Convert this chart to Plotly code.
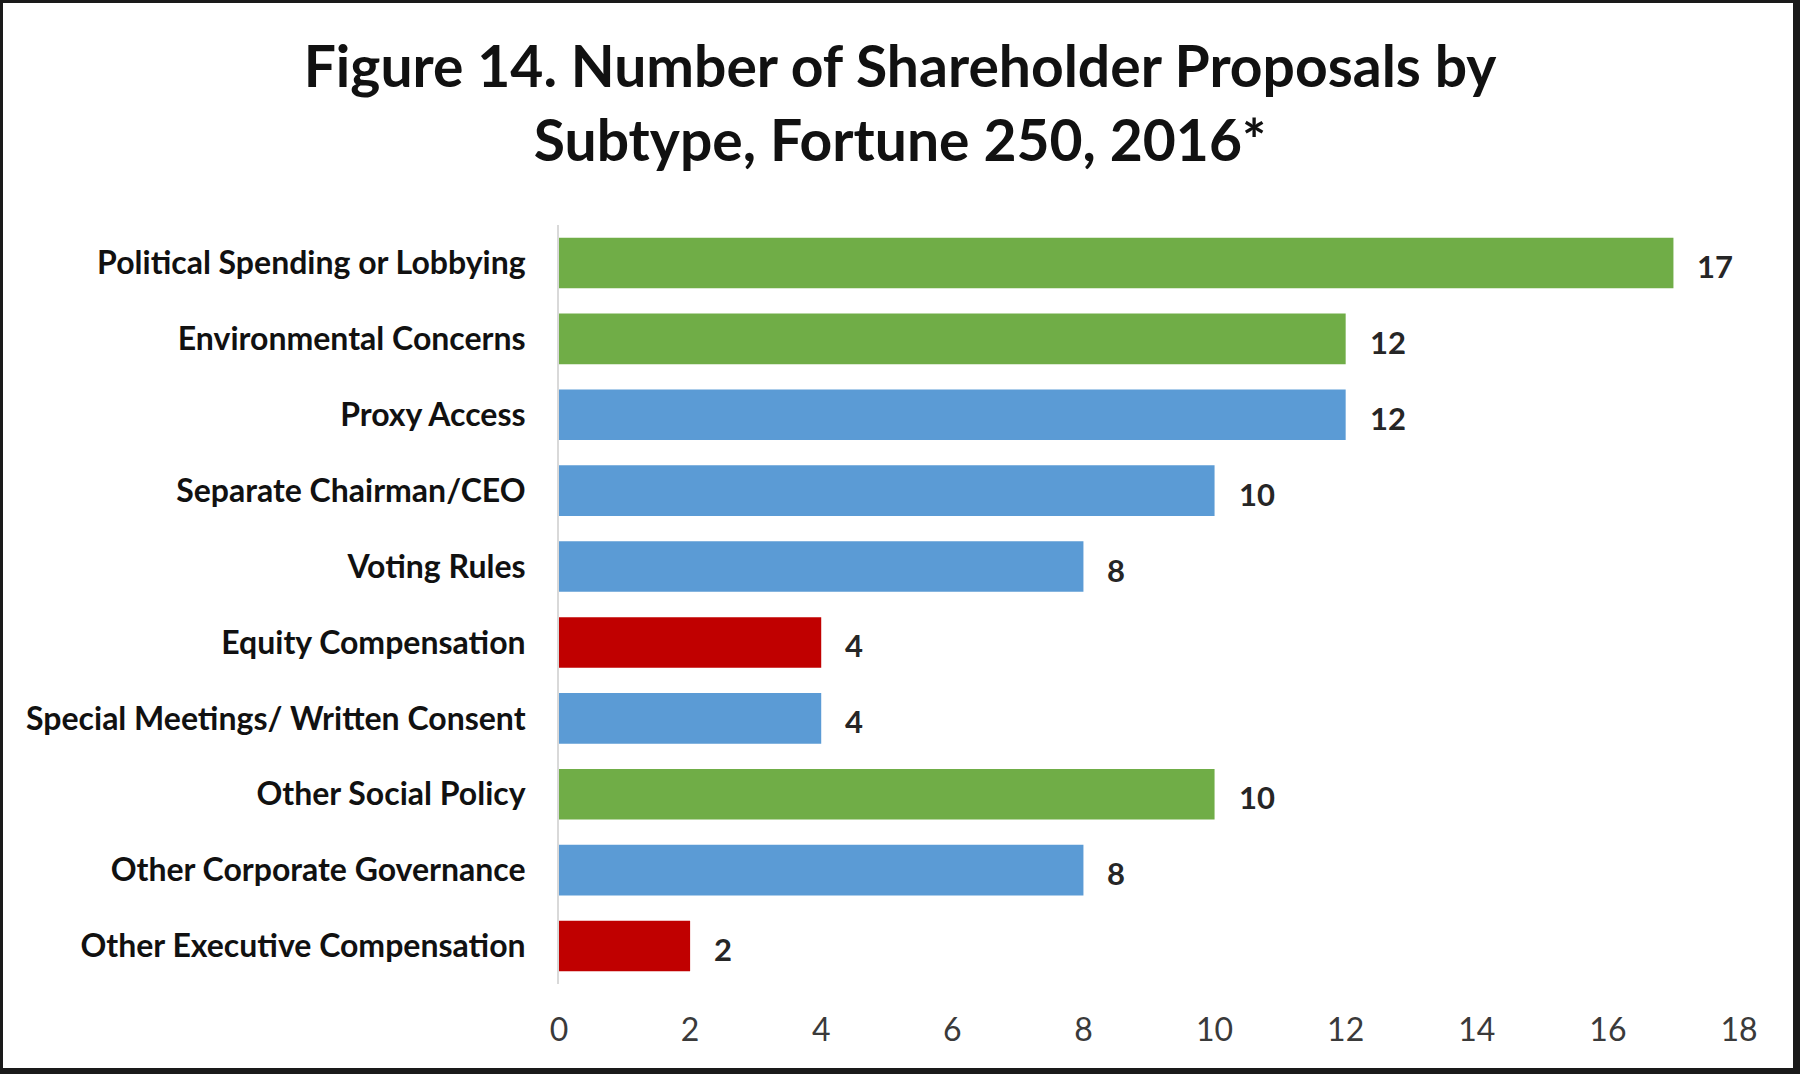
import plotly.graph_objects as go

# data, top to bottom
subtypes = ['Political Spending or Lobbying', 'Environmental Concerns', 'Proxy Access',
            'Separate Chairman/CEO', 'Voting Rules', 'Equity Compensation',
            'Special Meetings/ Written Consent', 'Other Social Policy',
            'Other Corporate Governance', 'Other Executive Compensation']
counts = [17, 12, 12, 10, 8, 4, 4, 10, 8, 2]
groups = ['social', 'social', 'governance', 'governance', 'governance', 'compensation',
          'governance', 'social', 'governance', 'compensation']
x_ticks = [0, 2, 4, 6, 8, 10, 12, 14, 16, 18]

group_colors = {'social': '#70AD47', 'governance': '#5B9BD5', 'compensation': '#C00000'}
font_fam = 'Lato, Open Sans, sans-serif'

bar = go.Bar(
    x=counts,
    y=subtypes,
    orientation='h',
    marker=dict(color=[group_colors[g] for g in groups], line=dict(width=0)),
    hoverinfo='x+y',
)

fig = go.Figure(data=[bar])

# value labels next to each bar
for name, val in zip(subtypes, counts):
    fig.add_annotation(x=val, y=name, text=str(val), showarrow=False,
                       xanchor='left', xshift=22, yshift=-3,
                       font=dict(family=font_fam, size=31, color='#262626', weight='bold'))

# frame around the image (thin top/left, heavier right/bottom)
W, H = 1800, 1074
ml, mr, mt, mb = 559, 61, 225, 90
pw, ph = W - ml - mr, H - mt - mb
def px(v): return (v - ml) / pw
def py(v): return (H - mb - v) / ph
frame = [(0, 0, W, 3), (0, 0, 3, H), (W - 7, 0, W, H), (0, H - 6, W, H)]
for x0, y0, x1, y1 in frame:
    fig.add_shape(type='rect', xref='paper', yref='paper',
                  x0=px(x0), x1=px(x1), y0=py(y1), y1=py(y0),
                  fillcolor='#1a1a1a', line=dict(width=0), layer='above')

fig.update_layout(
    width=W, height=H,
    margin=dict(l=ml, r=mr, t=mt, b=mb),
    paper_bgcolor='white', plot_bgcolor='white',
    bargap=0.333,
    showlegend=False,
    title=dict(text='Figure 14. Number of Shareholder Proposals by<br>Subtype, Fortune 250, 2016*',
               x=0.5, xref='container', xanchor='center',
               y=1 - 87 / H, yref='container', yanchor='middle',
               font=dict(family=font_fam, size=57, color='#111111', weight='bold')),
    font=dict(family=font_fam),
)
fig.update_xaxes(range=[0, 18], tickvals=x_ticks, showgrid=False, zeroline=False,
                 showline=False, ticks='', tickfont=dict(size=32, color='#3a3a3a'),
                 ticklabelstandoff=24)
fig.update_yaxes(autorange='reversed', showgrid=False, showline=True,
                 linecolor='#d9d9d9', linewidth=2, ticks='',
                 tickfont=dict(size=32, color='#111111', weight='bold'),
                 ticklabelstandoff=25)

fig.write_html('out.html', config={'displayModeBar': False},
               post_script="document.body.style.margin='0';")
